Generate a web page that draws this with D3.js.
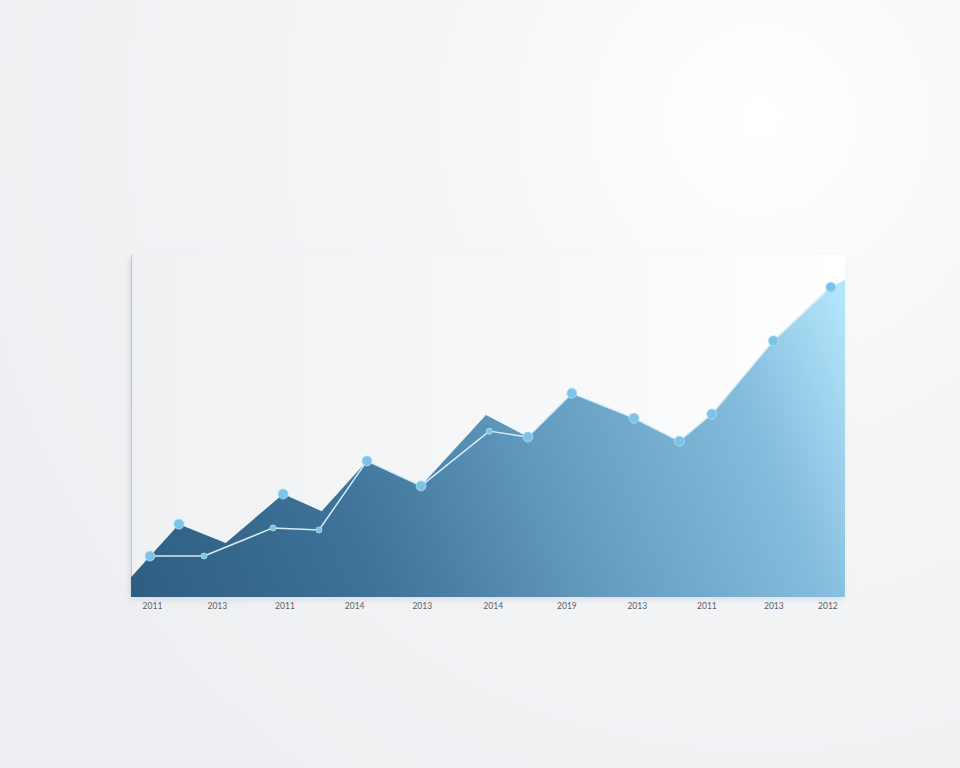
<!DOCTYPE html>
<html>
<head>
<meta charset="utf-8">
<script src="https://cdn.jsdelivr.net/npm/d3@7"></script>
<style>
  html, body { margin: 0; padding: 0; }
  body { width: 960px; height: 768px; overflow: hidden; }
</style>
</head>
<body>
<svg id="chart" width="960" height="768"></svg>
<script>
// ---- data ----
// tick labels (as printed on the reference) at positions 0..10
const tickLabels = ["2011", "2013", "2011", "2014", "2013", "2014", "2019", "2013", "2011", "2013", "2012"];
const tickPos = [0, 0.96, 1.96, 2.99, 3.99, 5.04, 6.13, 7.17, 8.20, 9.19, 9.99];

// area series (position, value)
const areaX = [-0.31, 0.40, 1.09, 1.94, 2.51, 3.18, 3.98, 4.94, 5.56, 6.21, 7.13, 7.80, 8.28, 9.19, 10.04, 10.25];
const areaY = [5.8, 21.3, 15.8, 30.1, 25.1, 39.8, 32.5, 53.2, 46.8, 59.6, 52.3, 45.6, 53.5, 74.9, 90.6, 92.7];

// line series (position, value)
const lineX = [-0.03, 0.77, 1.79, 2.47, 3.18, 3.98, 4.99, 5.56, 6.21, 7.13, 7.80, 8.28, 9.19, 10.04];
const lineY = [12.0, 12.0, 20.2, 19.6, 39.8, 32.5, 48.5, 46.8, 59.6, 52.3, 45.6, 53.5, 74.9, 90.6];
// marker size per line point: 1 = large, 0 = small
const lineBig = [1, 0, 0, 0, 1, 1, 0, 1, 1, 1, 1, 1, 1, 1];

// extra markers on area peaks
const peakX = [0.40, 1.94];
const peakY = [21.3, 30.1];

// ---- layout ----
const svg = d3.select("#chart");
const W = 960, H = 768;
const panel = { x0: 131, x1: 845, y0: 255, y1: 597 };

const defs = svg.append("defs");

// background
const bg = defs.append("radialGradient").attr("id", "bg")
  .attr("gradientUnits", "userSpaceOnUse")
  .attr("cx", 760).attr("cy", 120).attr("r", 900);
bg.append("stop").attr("offset", 0).attr("stop-color", "#ffffff");
bg.append("stop").attr("offset", 0.35).attr("stop-color", "#f5f6f7");
bg.append("stop").attr("offset", 1).attr("stop-color", "#eceef1");
svg.append("rect").attr("width", W).attr("height", H).attr("fill", "url(#bg)");

// panel shadow (mostly on the left edge)
const sh = defs.append("filter").attr("id", "shadow")
  .attr("x", "-10%").attr("y", "-10%").attr("width", "120%").attr("height", "130%");
sh.append("feDropShadow").attr("dx", -2).attr("dy", 3).attr("stdDeviation", 3)
  .attr("flood-color", "#9aa3ab").attr("flood-opacity", 0.25);

const pg = defs.append("linearGradient").attr("id", "panelFill")
  .attr("x1", 0).attr("y1", 0).attr("x2", 1).attr("y2", 0);
pg.append("stop").attr("offset", 0).attr("stop-color", "#f0f1f3");
pg.append("stop").attr("offset", 0.6).attr("stop-color", "#f7f8f9");
pg.append("stop").attr("offset", 1).attr("stop-color", "#ffffff");

svg.append("rect")
  .attr("x", panel.x0).attr("y", panel.y0)
  .attr("width", panel.x1 - panel.x0).attr("height", panel.y1 - panel.y0)
  .attr("fill", "url(#panelFill)")
  .attr("filter", "url(#shadow)");
// left edge line
svg.append("line")
  .attr("x1", panel.x0 + 0.5).attr("x2", panel.x0 + 0.5)
  .attr("y1", panel.y0).attr("y2", panel.y1)
  .attr("stroke", "#c4c9ce").attr("stroke-width", 1.2);

// ---- scales ----
const x = d3.scaleLinear().domain([-0.31, 10.25]).range([panel.x0, panel.x1]);
const y = d3.scaleLinear().domain([0, 100]).range([panel.y1, panel.y0]);

// area gradient
const ag = defs.append("linearGradient").attr("id", "areaFill")
  .attr("gradientUnits", "userSpaceOnUse")
  .attr("x1", panel.x0).attr("y1", panel.y1)
  .attr("x2", panel.x1).attr("y2", 300);
ag.append("stop").attr("offset", 0).attr("stop-color", "#2d5d82");
ag.append("stop").attr("offset", 0.3).attr("stop-color", "#3f7399");
ag.append("stop").attr("offset", 0.6).attr("stop-color", "#68a0c4");
ag.append("stop").attr("offset", 0.83).attr("stop-color", "#84bcdd");
ag.append("stop").attr("offset", 1).attr("stop-color", "#b4e6fb");

const areaData = areaX.map((v, i) => ({ x: v, y: areaY[i] }));
const lineData = lineX.map((v, i) => ({ x: v, y: lineY[i], big: lineBig[i] }));
const peakData = peakX.map((v, i) => ({ x: v, y: peakY[i] }));

svg.append("path")
  .datum(areaData)
  .attr("fill", "url(#areaFill)")
  .attr("d", d3.area().x(d => x(d.x)).y0(y(0)).y1(d => y(d.y)));

// line
svg.append("path")
  .datum(lineData)
  .attr("fill", "none")
  .attr("stroke", "#d4ecf8")
  .attr("stroke-width", 1.5)
  .attr("stroke-linejoin", "round")
  .attr("d", d3.line().x(d => x(d.x)).y(d => y(d.y)));

// markers
const mk = svg.append("g");
mk.selectAll("circle.pk").data(peakData).join("circle")
  .attr("class", "pk")
  .attr("cx", d => x(d.x)).attr("cy", d => y(d.y))
  .attr("r", 5).attr("fill", "#7cc4e7").attr("stroke", "#a6daf2").attr("stroke-width", 0.8);
mk.selectAll("circle.lp").data(lineData).join("circle")
  .attr("class", "lp")
  .attr("cx", d => x(d.x)).attr("cy", d => y(d.y))
  .attr("r", d => d.big ? 5 : 3)
  .attr("fill", "#7cc4e7").attr("stroke", "#b4e1f5").attr("stroke-width", 0.8);

// x axis
const axis = d3.axisBottom(x)
  .tickValues(tickPos)
  .tickFormat((d, i) => tickLabels[i])
  .tickSize(0).tickPadding(6);
const ax = svg.append("g")
  .attr("transform", `translate(0,${panel.y1})`)
  .call(axis);
ax.select(".domain").remove();
ax.selectAll("text")
  .attr("font-family", "Lato, 'Open Sans', sans-serif")
  .attr("font-size", 8.5)
  .attr("fill", "#5a5f66");
</script>
</body>
</html>
